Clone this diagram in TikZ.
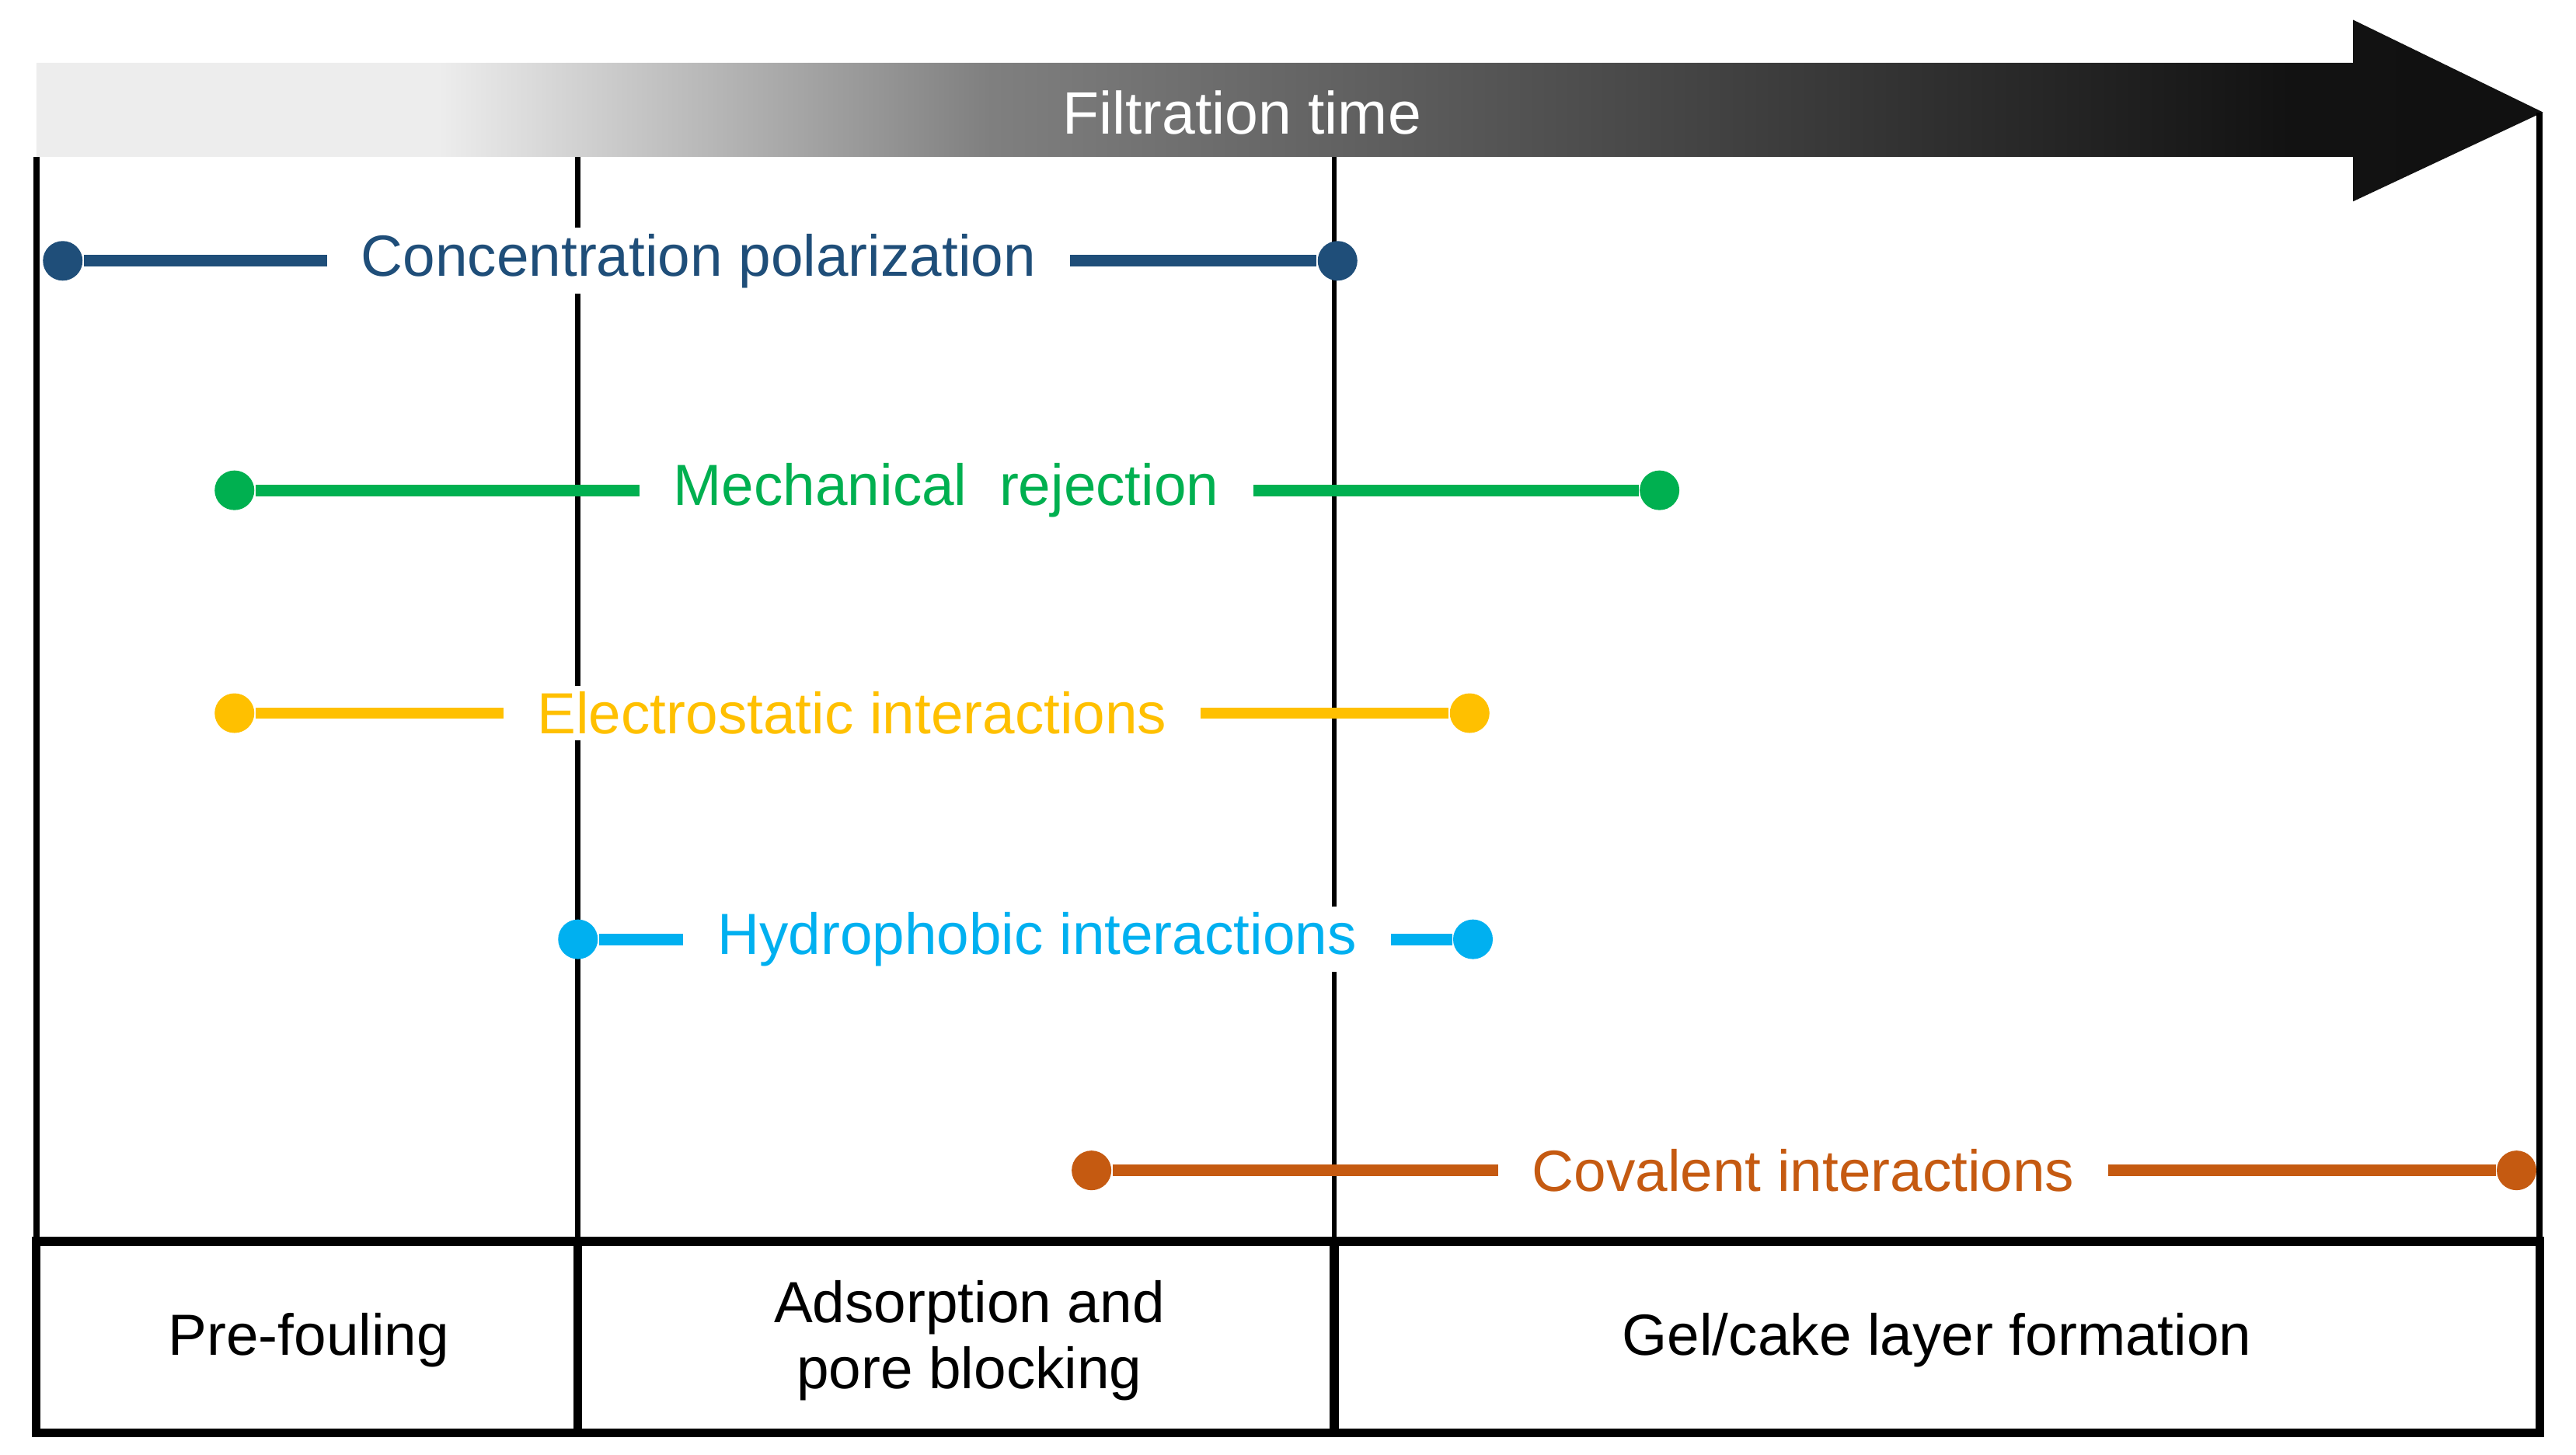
\documentclass[tikz,border=0pt]{standalone}
\usepackage{fontspec}
\setmainfont{Liberation Sans}
\definecolor{cpblue}{HTML}{1F4E79}
\definecolor{mrgreen}{HTML}{00B050}
\definecolor{esyellow}{HTML}{FFC000}
\definecolor{hpcyan}{HTML}{00B0F0}
\definecolor{cvorange}{HTML}{C55A11}
\pgfdeclarehorizontalshading{ftime}{100bp}{color(0bp)=(black!7); color(33bp)=(black!7); color(44bp)=(black!50); color(62bp)=(black!80); color(70bp)=(black!93); color(100bp)=(black!95)}
\tikzset{
	dot/.style={circle, fill=#1, inner sep=0pt, minimum size=0.24cm},
	bar/.style={line width=2pt, draw=#1},
	lbl/.style={fill=white, inner xsep=0.2cm, inner ysep=1pt, font=\fontsize{10}{12}\selectfont},
}
\begin{document}
\begin{tikzpicture}[x=0.01cm, y=-0.01cm]
	\useasboundingbox (0,0) rectangle (1560,881);
	% time arrow
	\shade[shading=ftime]
		(22,38) -- (1425,38) -- (1425,12) -- (1540,68) -- (1425,122) -- (1425,95) -- (22,95) -- cycle;
	\node[text=white, font=\fontsize{10.3}{12}\selectfont] (ft) at (752,68) {Filtration time};
	% frame
	\draw[line width=1.1pt] (22,95) -- (22,868) -- (1538,868) -- (1538,68);
	\draw[line width=0.9pt] (350,95) -- (350,752);
	\draw[line width=0.9pt] (808,95) -- (808,752);
	\draw[line width=1.5pt] (22,752) rectangle (1538,868);
	\draw[line width=1.5pt] (350,752) -- (350,868);
	\draw[line width=1.5pt] (808,752) -- (808,868);
	% mechanisms
	\path
		(38,158) node[dot=cpblue] (cp1) {}
		(810,158) node[dot=cpblue] (cp2) {}
		(423,158) node[lbl, text=cpblue] (cp) {Concentration polarization}
		(142,297) node[dot=mrgreen] (mr1) {}
		(1005,297) node[dot=mrgreen] (mr2) {}
		(573,297) node[lbl, text=mrgreen] (mr) {Mechanical\ \ rejection}
		(142,432) node[dot=esyellow] (es1) {}
		(890,432) node[dot=esyellow] (es2) {}
		(516,432) node[lbl, text=esyellow] (es) {Electrostatic interactions}
		(350,569) node[dot=hpcyan] (hp1) {}
		(892,569) node[dot=hpcyan] (hp2) {}
		(628,569) node[lbl, text=hpcyan] (hp) {Hydrophobic interactions}
		(661,709) node[dot=cvorange] (cv1) {}
		(1524,709) node[dot=cvorange] (cv2) {}
		(1092,709) node[lbl, text=cvorange] (cv) {Covalent interactions}
	;
	\draw[bar=cpblue] (cp1) -- (cp) -- (cp2);
	\draw[bar=mrgreen] (mr1) -- (mr) -- (mr2);
	\draw[bar=esyellow] (es1) -- (es) -- (es2);
	\draw[bar=hpcyan] (hp1) -- (hp) -- (hp2);
	\draw[bar=cvorange] (cv1) -- (cv) -- (cv2);
	% stages
	\path[font=\fontsize{10}{11.4}\selectfont]
		(187,812) node (pf) {Pre-fouling}
		(587,812) node[align=center] (ad) {Adsorption and\\pore blocking}
		(1173,812) node (gc) {Gel/cake layer formation}
	;
\end{tikzpicture}
\end{document}
